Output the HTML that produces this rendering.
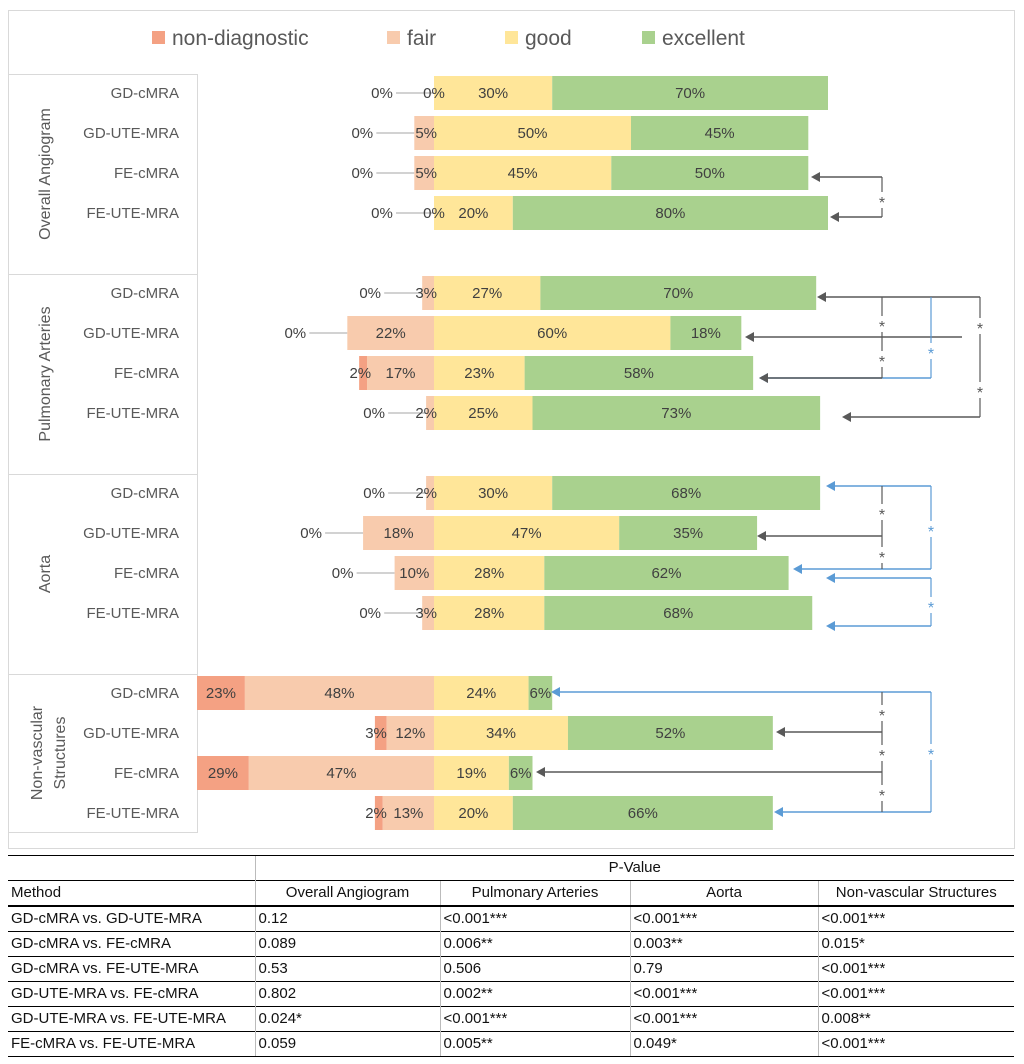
<!DOCTYPE html>
<html><head><meta charset="utf-8"><style>
body{margin:0;width:1024px;height:1064px;background:#fff;font-family:"Liberation Sans",sans-serif;overflow:hidden;position:relative}
svg{position:absolute;left:0;top:0}
table{position:absolute;left:8px;top:855px;width:1006px;border-collapse:collapse;font-size:15px;color:#111}
td{height:24px;padding:0 3px;border-top:1px solid #000;border-left:1px solid #bbb;white-space:nowrap;line-height:24px}
td:first-child{border-left:none}
tr.h2 td{border-bottom:2px solid #000}
.c{text-align:center}
</style></head><body>
<svg id="chart" width="1024" height="850" font-family="Liberation Sans, sans-serif"></svg>
<table>
<colgroup><col style="width:247px"><col style="width:185px"><col style="width:190px"><col style="width:188px"><col style="width:196px"></colgroup>
<tr><td></td><td class="c" colspan="4" style="border-left:1px solid #bbb">P-Value</td></tr>
<tr class="h2"><td>Method</td><td class="c">Overall Angiogram</td><td class="c">Pulmonary Arteries</td><td class="c">Aorta</td><td class="c">Non-vascular Structures</td></tr>
<tr><td>GD-cMRA vs. GD-UTE-MRA</td><td>0.12</td><td>&lt;0.001***</td><td>&lt;0.001***</td><td>&lt;0.001***</td></tr>
<tr><td>GD-cMRA vs. FE-cMRA</td><td>0.089</td><td>0.006**</td><td>0.003**</td><td>0.015*</td></tr>
<tr><td>GD-cMRA vs. FE-UTE-MRA</td><td>0.53</td><td>0.506</td><td>0.79</td><td>&lt;0.001***</td></tr>
<tr><td>GD-UTE-MRA vs. FE-cMRA</td><td>0.802</td><td>0.002**</td><td>&lt;0.001***</td><td>&lt;0.001***</td></tr>
<tr><td>GD-UTE-MRA vs. FE-UTE-MRA</td><td>0.024*</td><td>&lt;0.001***</td><td>&lt;0.001***</td><td>0.008**</td></tr>
<tr><td style="border-bottom:1px solid #000">FE-cMRA vs. FE-UTE-MRA</td><td style="border-bottom:1px solid #000">0.059</td><td style="border-bottom:1px solid #000">0.005**</td><td style="border-bottom:1px solid #000">0.049*</td><td style="border-bottom:1px solid #000">&lt;0.001***</td></tr>
</table>
<script>
const groups = ["Overall Angiogram","Pulmonary Arteries","Aorta","Non-vascular Structures"];
const methods = ["GD-cMRA","GD-UTE-MRA","FE-cMRA","FE-UTE-MRA"];
const series = ["non-diagnostic","fair","good","excellent"];
const nonDiagnostic = [0,0,0,0, 0,0,2,0, 0,0,0,0, 23,3,29,2];
const fair = [0,5,5,0, 3,22,17,2, 2,18,10,3, 48,12,47,13];
const good = [30,50,45,20, 27,60,23,25, 30,47,28,28, 24,34,19,20];
const excellent = [70,45,50,80, 70,18,58,73, 68,35,62,68, 6,52,6,66];
const colors = ["#F4A183","#F8CBAD","#FFE699","#A9D18E"];
const NS="http://www.w3.org/2000/svg";
const svg=document.getElementById('chart');
function mk(t,a,p){const e=document.createElementNS(NS,t);for(const k in a)e.setAttribute(k,a[k]);(p||svg).appendChild(e);return e;}
const X0=434, PX=3.94, PLOTL=197;
const xs=v=>X0+v*PX;
const yc=(g,i)=>93+g*200+i*40;
const fr=mk('rect',{x:8.5,y:10.5,width:1006,height:838,fill:'none',stroke:'#d9d9d9'});


const legX=[152,387,505,642];
series.forEach((s,k)=>{
  const g=mk('g',{});
  
  
  mk('rect',{x:legX[k],y:31,width:13,height:13,fill:colors[k]},g);
  const t=mk('text',{x:legX[k]+20,y:45,'font-size':21,fill:'#595959'},g);t.textContent=s;
});
const gTop=[74,274,474,674], gBot=[274,474,674,832];
groups.forEach((gn,g)=>{
  const r=mk('rect',{x:8.5,y:gTop[g]+.5,width:189,height:gBot[g]-gTop[g],fill:'none',stroke:'#d9d9d9'});
  
  
  const cy=(gTop[g]+gBot[g])/2;
  if(g===3){
    const t=mk('text',{transform:`translate(50,${cy}) rotate(-90)`,'text-anchor':'middle','font-size':16,fill:'#595959'});
    
    
    mk('tspan',{x:0,dy:-8},t).textContent='Non-vascular';
    mk('tspan',{x:0,dy:23},t).textContent='Structures';
  } else {
    const t=mk('text',{transform:`translate(50,${cy}) rotate(-90)`,'text-anchor':'middle','font-size':16,fill:'#595959'});
    
    
    t.textContent=gn;
  }
  methods.forEach((m,i)=>{
    const t=mk('text',{x:179,y:yc(g,i)+5,'text-anchor':'end','font-size':15,fill:'#595959'});
    
    
    t.textContent=m;
  });
});
const labels=[];
for(let g=0;g<4;g++)for(let i=0;i<4;i++){
  const n=g*4+i, y=yc(g,i);
  const vals=[nonDiagnostic[n],fair[n],good[n],excellent[n]];
  const starts=[-(vals[0]+vals[1]),-vals[1],0,vals[2]];
  vals.forEach((v,k)=>{
    let x1=xs(starts[k]), x2=xs(starts[k]+v);
    if(x1<PLOTL)x1=PLOTL;
    if(v>0){
      const r=mk('rect',{x:x1,y:y-17,width:Math.max(0,x2-x1),height:34,fill:colors[k]});
      
      
    }
    let lx=(x1+x2)/2, anchor='middle';
    if(k===0 && v===0){
      const left=xs(-(vals[0]+vals[1]));
      lx=left-52;
      mk('line',{x1:lx+14,y1:y,x2:left,y2:y,stroke:'#a6a6a6','stroke-width':1});
    }
    if(k===1 && v===0) lx=X0;
    if(k===1 && v>0 && v<6){ lx=X0+3; anchor='end'; }
    if(k===0 && v>0 && v<5){ lx=x1-2+ (v*PX); anchor='end'; lx=x1+12; }
    labels.push({x:lx,y:y+5,anchor,text:v+'%'});
  });
}
labels.forEach(l=>{
  const t=mk('text',{x:l.x,y:l.y,'text-anchor':l.anchor,'font-size':15,fill:'#404040'});
  
  
  t.textContent=l.text;
});
const DK='#595959', BL='#5B9BD5';
function arrow(x1,x2,y,c){mk('line',{x1,y1:y,x2:x2+8,y2:y,stroke:c,'stroke-width':1.5});mk('path',{d:`M${x2},${y} l9,-5 v10 z`,fill:c});}
function vline(x,y1,y2,c){mk('line',{x1:x,y1,x2:x,y2,stroke:c,'stroke-width':1.2});}
function star(x,y,c){const t=mk('text',{x,y:y+8,'text-anchor':'middle','font-size':16,fill:c});t.textContent='*';}
function segs(x,y1,y2,c,stars){let cur=y1;stars.forEach(s=>{vline(x,cur,s-8,c);star(x,s,c);cur=s+8;});vline(x,cur,y2,c);}
arrow(882,811,177,DK);arrow(882,830,217,DK);segs(882,177,217,DK,[200]);
arrow(980,817,297,DK);arrow(980,842,417,DK);segs(980,297,417,DK,[326,390]);
arrow(962,745,337,DK);arrow(931,759,378,BL);arrow(882,759,378,DK);
segs(882,297,378,DK,[324,359]);segs(931,297,378,BL,[351]);
arrow(931,826,486,BL);arrow(931,793,569,BL);segs(931,486,569,BL,[529]);
arrow(882,757,536,DK);segs(882,486,569,DK,[512,555]);
arrow(931,826,578,BL);arrow(931,826,626,BL);segs(931,578,626,BL,[605]);
arrow(931,551,692,BL);arrow(931,774,812,BL);segs(931,692,812,BL,[752]);
arrow(882,776,732,DK);arrow(882,536,772,DK);segs(882,692,812,DK,[713,753,793]);
</script>
</body></html>
